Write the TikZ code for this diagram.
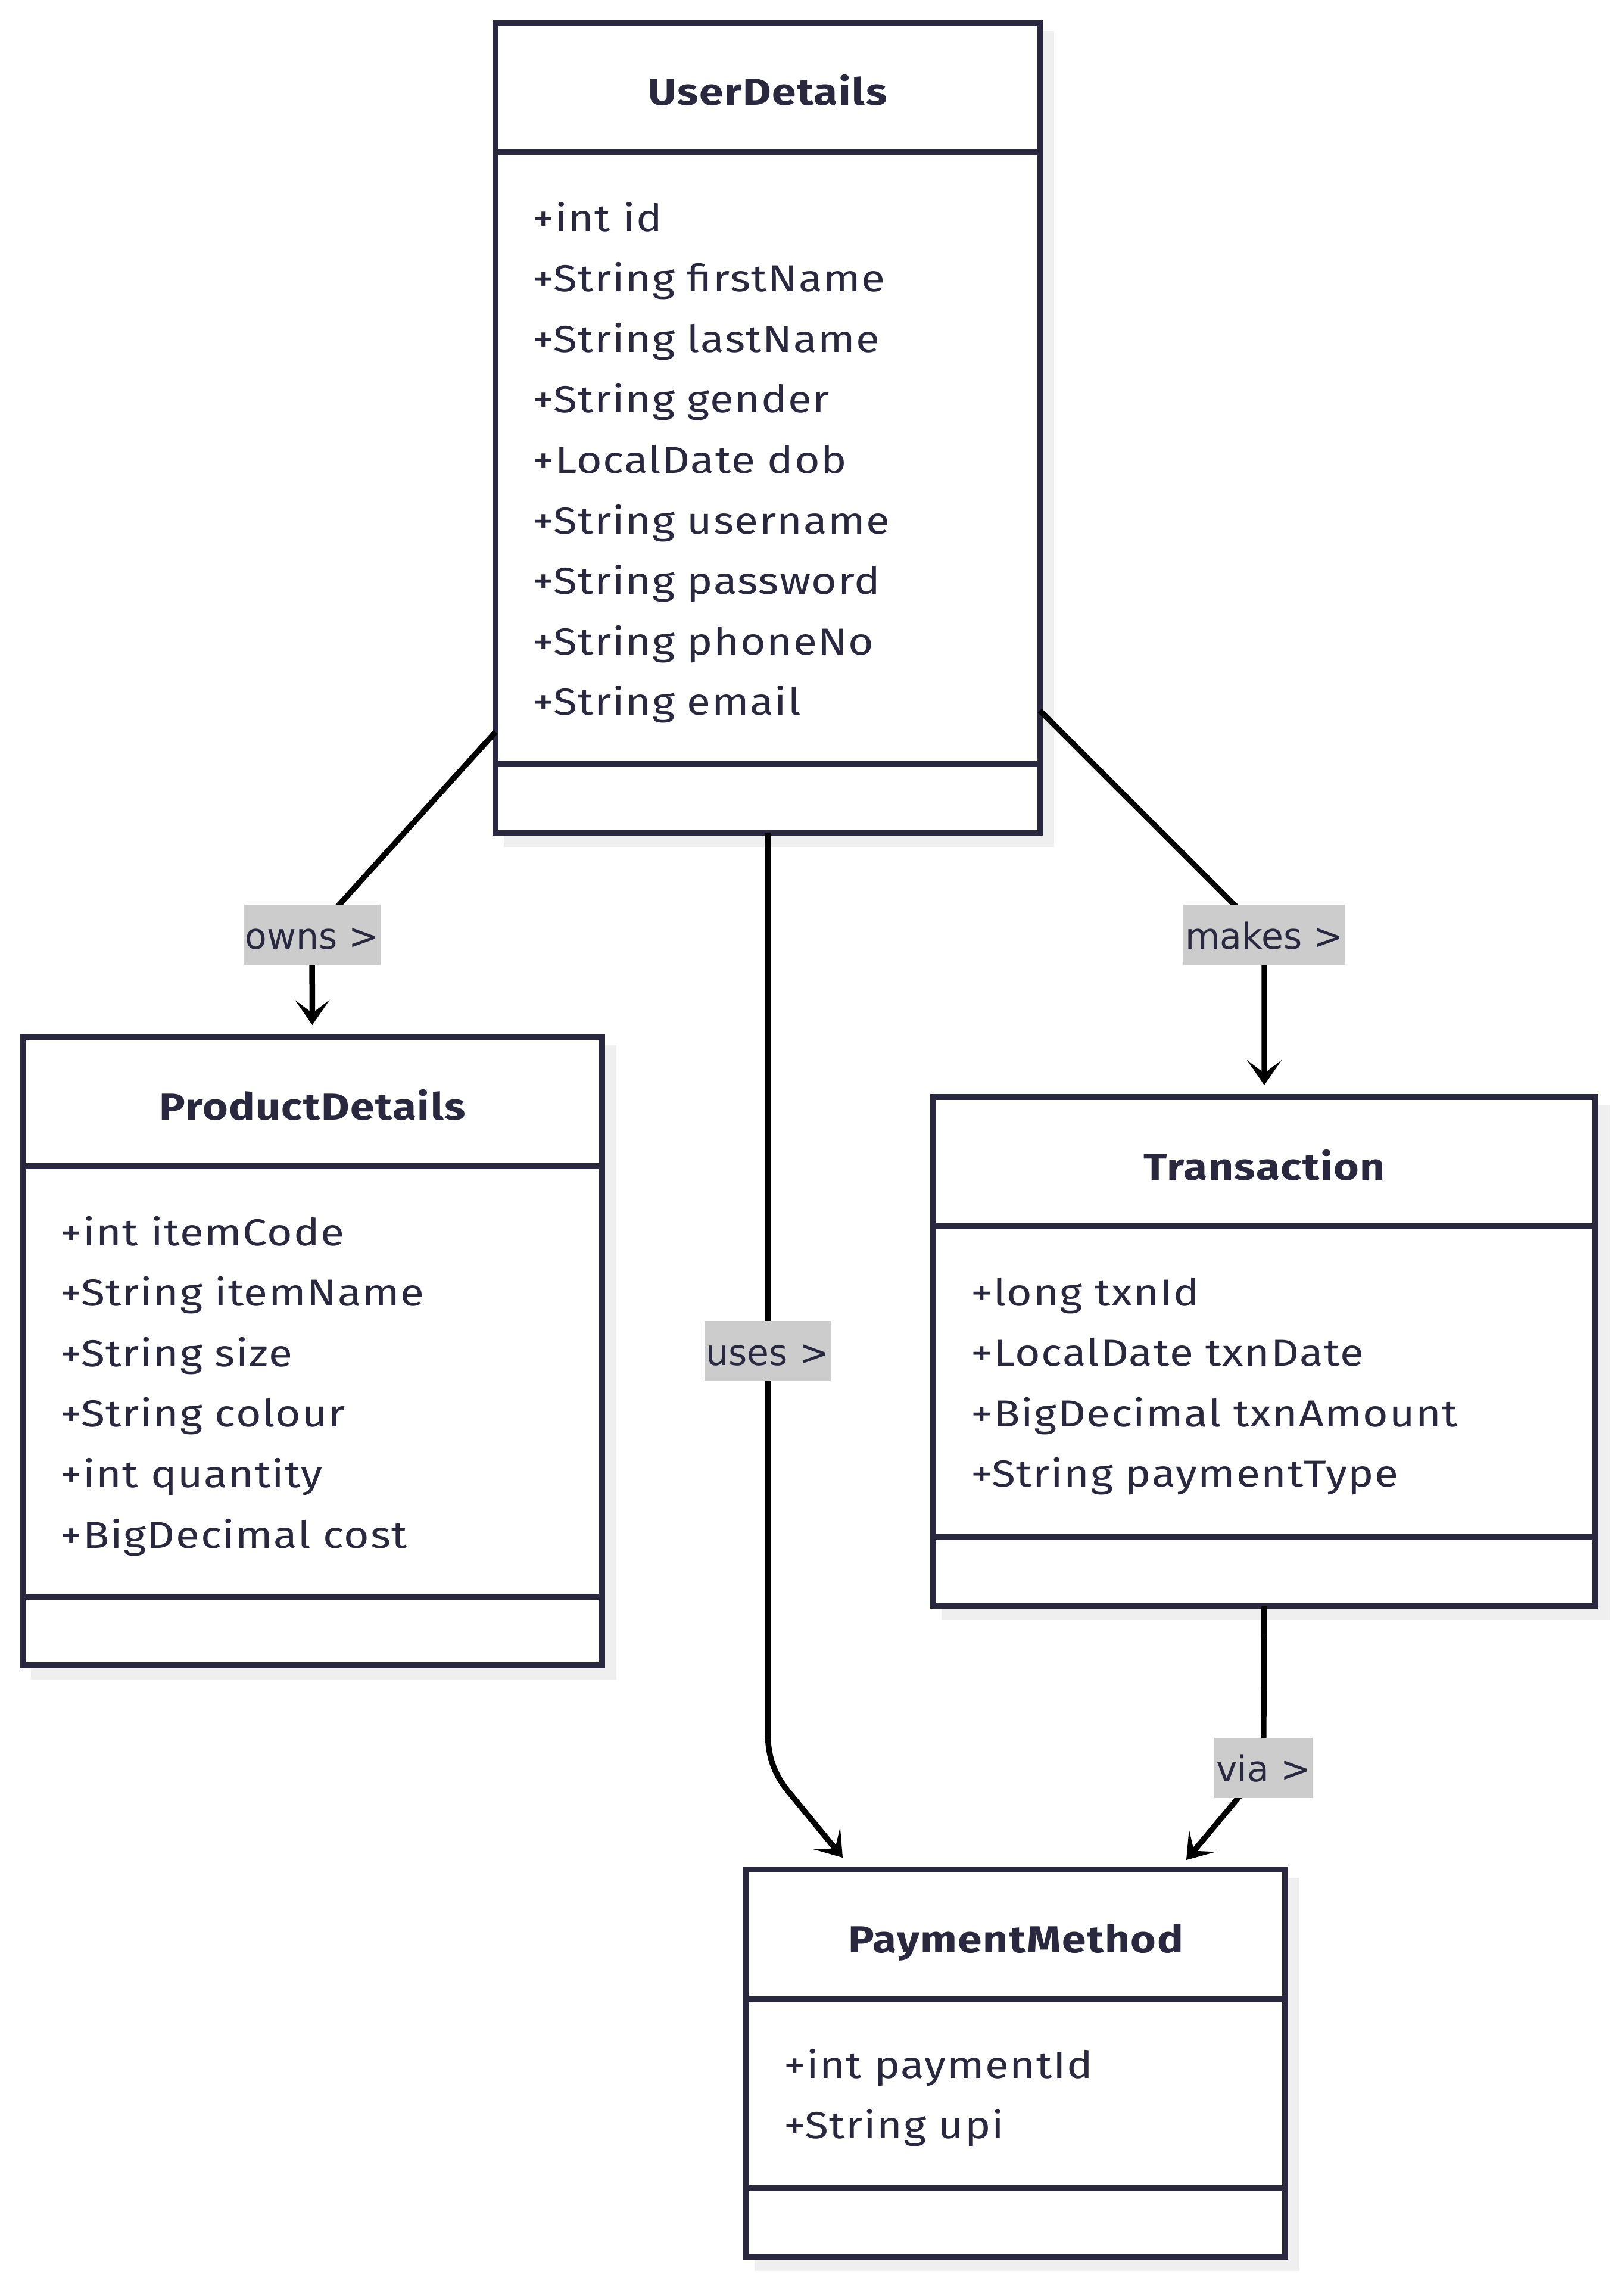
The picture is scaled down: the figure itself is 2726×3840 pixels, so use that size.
\documentclass[tikz,border=0pt]{standalone}
\usepackage{fontspec}
\setmainfont{Fira Sans}[FakeStretch=1.16,LetterSpace=2.5]
\newfontfamily\lblfont{DejaVu Sans}
\usetikzlibrary{arrows.meta}
\definecolor{ink}{RGB}{41,40,62}
\definecolor{shade}{RGB}{239,239,239}
\definecolor{lblbg}{RGB}{204,204,204}
\pgfdeclarelayer{bgl}
\pgfdeclarelayer{fgl}
\pgfsetlayers{bgl,main,fgl}
\begin{document}
\begin{tikzpicture}[x=1pt,y=-1pt,
  clsbox/.style={draw=ink, line width=10pt, fill=white, rectangle, inner sep=0pt, outer sep=0pt},
  divider/.style={draw=ink, line width=10pt},
  shadowbox/.style={fill=shade},
  ttl/.style={text=ink, font=\fontsize{63}{76}\selectfont\bfseries, anchor=base, inner sep=0pt},
  attr/.style={text=ink, font=\fontsize{63}{76}\selectfont, anchor=base west, inner sep=0pt},
  lbl/.style={fill=lblbg, text=ink, font=\lblfont\fontsize{60}{72}\selectfont, inner xsep=3pt, inner ysep=0pt, text height=74pt, text depth=27pt},
  conn/.style={draw=black, line width=9.5pt, line join=round, -{Stealth[length=42pt,width=58pt,inset=22pt]}},
]
\useasboundingbox (0,0) rectangle (2726,3840);

% background and shadows
\begin{pgfonlayer}{bgl}
  \fill[white] (0,0) rectangle (2726,3840);
  \fill[shadowbox] (846,52) rectangle (1770,1422);
  \fill[shadowbox] (52,1755) rectangle (1035,2820);
  \fill[shadowbox] (1581,1856) rectangle (2703,2720);
  \fill[shadowbox] (1267,3153) rectangle (2182,3813);
\end{pgfonlayer}

% UserDetails
\node[clsbox, minimum width=914pt, minimum height=1360pt] (ud) at (1289,718) {};
\draw[divider] (832,255) -- (1746,255);
\draw[divider] (832,1283) -- (1746,1283);
\node[ttl] (udt) at (1289,177) {UserDetails};
\foreach \t [count=\i from 0] in {+int id,+String firstName,+String lastName,+String gender,+LocalDate dob,+String username,+String password,+String phoneNo,+String email}
  \node[attr] (uda\i) at (894,388+\i*101.6) {\t};

% ProductDetails
\node[clsbox, minimum width=973pt, minimum height=1055pt] (pd) at (524.5,2268.5) {};
\draw[divider] (38,1958) -- (1011,1958);
\draw[divider] (38,2681) -- (1011,2681);
\node[ttl] (pdt) at (524.5,1880) {ProductDetails};
\foreach \t [count=\i from 0] in {+int itemCode,+String itemName,+String size,+String colour,+int quantity,+BigDecimal cost}
  \node[attr] (pda\i) at (101,2091+\i*101.6) {\t};

% Transaction
\node[clsbox, minimum width=1112pt, minimum height=854pt] (tr) at (2123,2269) {};
\draw[divider] (1567,2059) -- (2679,2059);
\draw[divider] (1567,2581) -- (2679,2581);
\node[ttl] (trt) at (2123,1981) {Transaction};
\foreach \t [count=\i from 0] in {+long txnId,+LocalDate txnDate,+BigDecimal txnAmount,+String paymentType}
  \node[attr] (tra\i) at (1630,2192+\i*101.6) {\t};

% PaymentMethod
\node[clsbox, minimum width=905pt, minimum height=650pt] (pm) at (1705.5,3464) {};
\draw[divider] (1253,3356) -- (2158,3356);
\draw[divider] (1253,3674) -- (2158,3674);
\node[ttl] (pmt) at (1705.5,3278) {PaymentMethod};
\foreach \t [count=\i from 0] in {+int paymentId,+String upi}
  \node[attr] (pma\i) at (1316,3489+\i*101.6) {\t};

% labels
\begin{pgfonlayer}{fgl}
  \node[lbl] (lo) at (524,1569.5) {owns >};
  \node[lbl] (lm) at (2123,1569.5) {makes >};
  \node[lbl] (lu) at (1289,2268.5) {uses >};
  \node[lbl] (lv) at (2121.5,2968) {via >};
\end{pgfonlayer}

% connector points
\coordinate (ownsStart) at (832,1229);
\coordinate (makesStart) at (1746,1193);
\coordinate (ub1) at (1289,2905);
\coordinate (ub2) at (1327,3012);
\coordinate (usesEnd) at (1415,3119);
\coordinate (viaEnd) at (1992,3123);

% connectors
\draw[conn, shorten >=20pt] (ownsStart) -- (lo.center) -- (pd.north);
\draw[conn, shorten >=20pt] (makesStart) -- (lm.center) -- (tr.north);
\draw[conn] (ud.south) -- (lu.center) -- (ub1) .. controls (1289,2950) and (1300,2980) .. (ub2) -- (usesEnd);
\draw[conn] (tr.south) -- (lv.center) -- (viaEnd);
\end{tikzpicture}
\end{document}
